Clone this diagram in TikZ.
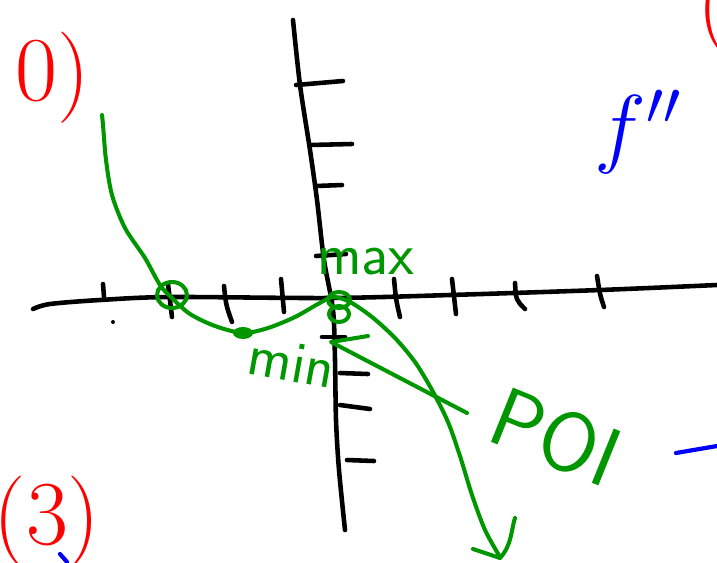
\documentclass[tikz,border=0pt]{standalone}
\usepackage{fix-cm}
\usepackage{fontspec}
\usepackage{tikz}

\definecolor{penGreen}{RGB}{0,150,0}
\definecolor{penRed}{RGB}{255,0,0}
\definecolor{penBlue}{RGB}{0,0,255}

\begin{document}
\begin{tikzpicture}[x=0.02cm,y=-0.02cm,
  ink/.style={line width=2.6pt,line cap=round,line join=round},
  axisline/.style={ink,black},
  tickmark/.style={ink,black},
  graphline/.style={ink,line width=2.3pt,penGreen},
  blueink/.style={ink,line width=2.4pt,penBlue},
  hand/.style={font=\sffamily\fontsize{34}{34}\selectfont,inner sep=0pt},
  number/.style={inner sep=0pt,penRed,font=\fontsize{52}{52}\selectfont}]
\useasboundingbox (0,0) rectangle (717,562);
\clip (0,0) rectangle (717,562);

% axes
\draw[axisline] plot[smooth] coordinates {(33,309) (50,304) (100,300) (170,297) (330,298) (450,295) (600,290) (717,285)};
\draw[axisline] plot[smooth] coordinates {(293,20) (300,85) (310,150) (317,200) (324,260) (333,310) (335,360) (336,420) (339,470) (345,530)};

% ticks on the x axis
\draw[tickmark] (103,284) -- (104,297);
\draw[tickmark] (168,284) -- (172,317);
\draw[tickmark] (224,286) .. controls (226,305) .. (232,322);
\draw[tickmark] (281,279) -- (284,312);
\draw[tickmark] (394,279) .. controls (396,300) .. (400,317);
\draw[tickmark] (452,279) -- (456,314);
\draw[tickmark] (515,283) .. controls (516,300) .. (525,309);
\draw[tickmark] (597,276) .. controls (600,295) .. (604,307);
\fill (113,322) circle (2);

% ticks on the y axis
\draw[tickmark] (296,85) -- (343,81);
\draw[tickmark] (310,145) -- (352,144);
\draw[tickmark] (316,186) -- (342,185);
\draw[tickmark] (316,256) -- (346,254);
\draw[tickmark] (322,337) -- (345,337);
\draw[tickmark] (340,373) -- (368,374);
\draw[tickmark] (340,405) -- (370,409);
\draw[tickmark] (347,460) -- (374,461);

% the graph
\draw[graphline] plot[smooth] coordinates {(102,115) (103,125) (106,160) (112,195) (125,228) (145,258) (160,285) (172,298) (190,314) (215,326) (243,333) (268,328) (295,317) (318,304) (333,297) (350,302) (372,317) (395,338) (415,362) (432,390) (448,422) (460,456) (472,495) (485,530) (500,557)};
\coordinate (arrowtip) at (500,558);
\draw[graphline] (473,549) -- (arrowtip);
\draw[graphline] (515,518) .. controls (511,530) and (512,545) .. (arrowtip);
\draw[graphline] (172,295) ellipse (15 and 13);
\draw[graphline] (339,300) ellipse (11 and 8);
\draw[graphline] (339,314) ellipse (10 and 8);
\fill[penGreen] (243,333) ellipse (10 and 6);
\coordinate (poiend) at (467,413);
\coordinate (poitip) at (331,342);
\draw[graphline] (368,336) -- (poitip) -- (poiend);

% labels
\node[hand,penGreen] (maxlabel) at (366,262) {max};
\node[hand,penGreen,rotate=-10] (minlabel) at (292,362) {min};
\node[hand,penGreen,rotate=-22,font=\sffamily\fontsize{48}{48}\selectfont] (poilabel) at (556,437) {POI};
\node[inner sep=0pt,penBlue,font=\fontsize{50}{50}\selectfont] (fpplabel) at (638,132) {$f''$};

% item numbers
\node[number] (numtwo) at (53,78) {0)};
\node[number] (numthree) at (47,522) {(3)};
\node[number] (numfour) at (714,10) {(};

% other marks
\draw[blueink] (676,453) -- (717,446);
\draw[blueink] (60,554) -- (67,562);
\end{tikzpicture}
\end{document}
